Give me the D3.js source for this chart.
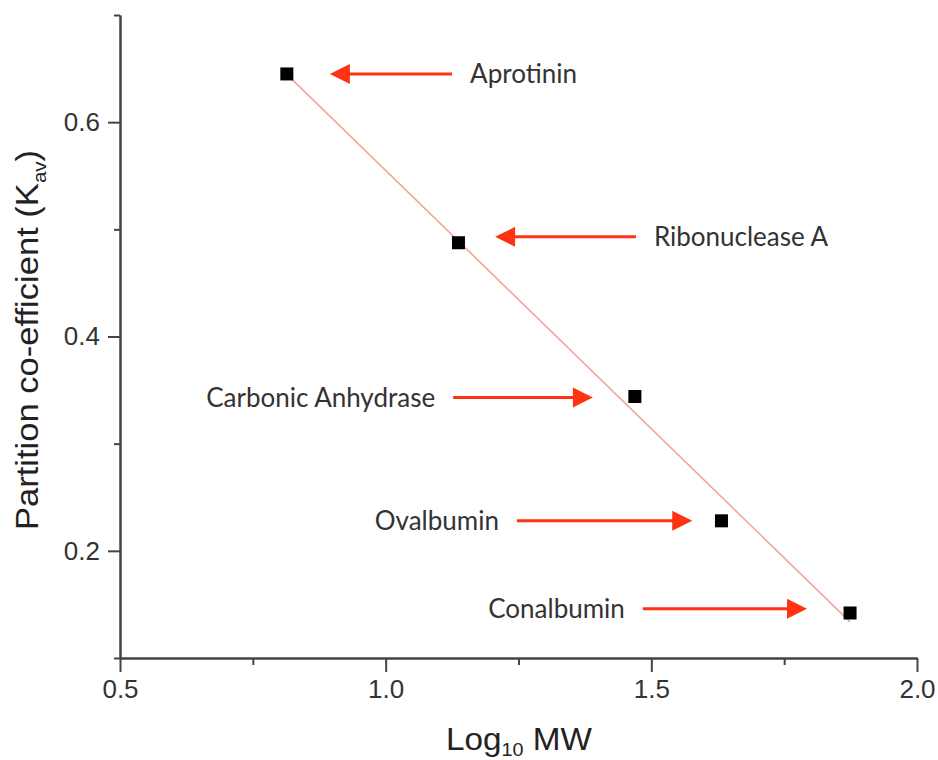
<!DOCTYPE html>
<html>
<head>
<meta charset="utf-8">
<script src="https://cdn.jsdelivr.net/npm/d3@7"></script>
<style>
  body { margin: 0; background: #fff; }
  svg { display: block; }
</style>
</head>
<body>
<svg id="chart" width="938" height="760"></svg>
<script>
// ---- Data ----
const proteins = ["Aprotinin", "Ribonuclease A", "Carbonic Anhydrase", "Ovalbumin", "Conalbumin"];
const logMW = [0.814, 1.137, 1.469, 1.632, 1.874];
const kav = [0.645, 0.4875, 0.344, 0.228, 0.142];

// annotation arrows (data units)
const arrowY = [0.645, 0.493, 0.343, 0.228, 0.146];
const arrowTail = [1.125, 1.471, 1.127, 1.247, 1.484];
const arrowTip = [0.895, 1.206, 1.390, 1.577, 1.793];

const xTicks = [0.5, 1.0, 1.5, 2.0];
const xMinor = [0.75, 1.25, 1.75];
const yTicks = [0.2, 0.4, 0.6];
const yMinor = [0.1, 0.3, 0.5, 0.7];

// ---- Chart ----
const svg = d3.select("#chart");
const x = d3.scaleLinear().domain([0.5, 2.0]).range([120, 917]);
const y = d3.scaleLinear().domain([0.1, 0.7]).range([658, 15]);

const axisColor = "#444";
const tickFont = "'Liberation Sans', Arial, sans-serif";

// minor ticks
const gxMinor = svg.append("g").attr("transform", "translate(0,658)")
  .call(d3.axisBottom(x).tickValues(xMinor).tickSize(7).tickSizeOuter(0).tickFormat(""));
const gyMinor = svg.append("g").attr("transform", "translate(120,0)")
  .call(d3.axisLeft(y).tickValues(yMinor).tickSize(6).tickSizeOuter(0).tickFormat(""));

// major axes
const gx = svg.append("g").attr("transform", "translate(0,658)")
  .call(d3.axisBottom(x).tickValues(xTicks).tickSize(14).tickSizeOuter(0).tickPadding(8).tickFormat(d3.format(".1f")));
const gy = svg.append("g").attr("transform", "translate(120,0)")
  .call(d3.axisLeft(y).tickValues(yTicks).tickSize(12).tickSizeOuter(0).tickPadding(8).tickFormat(d3.format(".1f")));

[gxMinor, gyMinor, gx, gy].forEach(g => {
  g.selectAll("path.domain").attr("stroke", axisColor).attr("stroke-width", 2);
  g.selectAll(".tick line").attr("stroke", axisColor).attr("stroke-width", 2);
  g.selectAll(".tick text").attr("fill", "#333").style("font-family", tickFont).style("font-size", "26px");
});

// fit line (least squares from data)
const mx = d3.mean(logMW), my = d3.mean(kav);
let sxy = 0, sxx = 0;
logMW.forEach((v, i) => { sxy += (v - mx) * (kav[i] - my); sxx += (v - mx) * (v - mx); });
const slope = sxy / sxx, intercept = my - slope * mx;
const x0 = d3.min(logMW), x1 = d3.max(logMW);
svg.append("line")
  .attr("x1", x(x0)).attr("y1", y(intercept + slope * x0))
  .attr("x2", x(x1)).attr("y2", y(intercept + slope * x1))
  .attr("stroke", "#f4a595").attr("stroke-width", 1.6);

// points
const sz = 13;
svg.append("g").selectAll("rect").data(logMW).join("rect")
  .attr("x", d => x(d) - sz / 2)
  .attr("y", (d, i) => y(kav[i]) - sz / 2)
  .attr("width", sz).attr("height", sz)
  .attr("fill", "#000");

// arrows + labels
const red = "#ff3311";
const ann = svg.append("g");
proteins.forEach((name, i) => {
  const yy = y(arrowY[i]);
  const xt = x(arrowTail[i]), xp = x(arrowTip[i]);
  const dir = xp > xt ? 1 : -1;
  const headLen = 20, headW = 10;
  ann.append("line")
    .attr("x1", xt).attr("y1", yy)
    .attr("x2", xp - dir * headLen + dir * 2).attr("y2", yy)
    .attr("stroke", red).attr("stroke-width", 3);
  ann.append("path")
    .attr("d", `M${xp},${yy} L${xp - dir * headLen},${yy - headW} L${xp - dir * headLen},${yy + headW} Z`)
    .attr("fill", red);
  ann.append("text")
    .attr("x", xt - dir * 18)
    .attr("y", yy)
    .attr("dy", "0.35em")
    .attr("text-anchor", dir > 0 ? "end" : "start")
    .attr("fill", "#333")
    .style("font-family", "Lato, 'Open Sans', sans-serif")
    .style("font-size", "26px")
    .text(name);
});

// axis titles
const xt = svg.append("text")
  .attr("transform", "translate(519,750) scale(1.04,1)")
  .attr("text-anchor", "middle")
  .attr("fill", "#222")
  .style("font-family", tickFont).style("font-size", "32px");
xt.append("tspan").text("Log");
xt.append("tspan").attr("font-size", "19px").attr("dy", 6).text("10");
xt.append("tspan").attr("dy", -6).text(" MW");

const yt = svg.append("text")
  .attr("transform", "translate(38,340) rotate(-90) scale(1.08,1)")
  .attr("text-anchor", "middle")
  .attr("fill", "#222")
  .style("font-family", tickFont).style("font-size", "32px");
yt.append("tspan").text("Partition co-efficient (K");
yt.append("tspan").attr("font-size", "19px").attr("dy", 8).text("av");
yt.append("tspan").attr("dy", -8).text(")");
</script>
</body>
</html>
